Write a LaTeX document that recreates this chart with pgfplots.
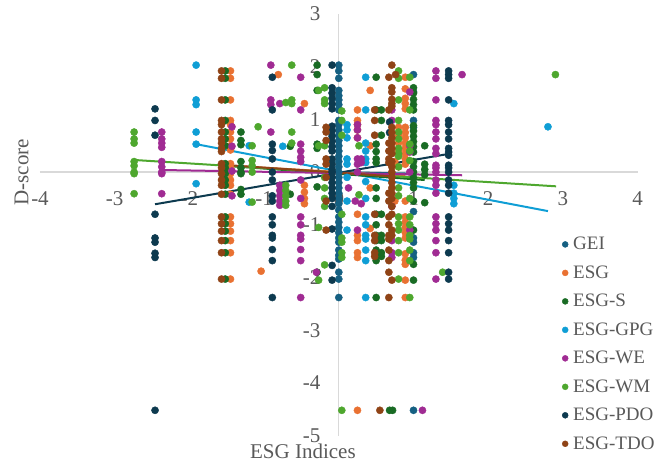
\documentclass[border=0pt]{standalone}
\usepackage{fontspec}
\setmainfont{Liberation Serif}
\usepackage{pgfplots}
\pgfplotsset{compat=1.18}
\definecolor{cGEI}{HTML}{156082}
\definecolor{cESG}{HTML}{E97132}
\definecolor{cS}{HTML}{196B24}
\definecolor{cGPG}{HTML}{0F9ED5}
\definecolor{cWE}{HTML}{A02B93}
\definecolor{cWM}{HTML}{4EA72E}
\definecolor{cPDO}{HTML}{0D3A4F}
\definecolor{cTDO}{HTML}{8F4316}
\definecolor{txt}{HTML}{595959}
\definecolor{axl}{HTML}{D9D9D9}
\begin{document}
\begin{tikzpicture}[x=1pt,y=1pt]
\useasboundingbox (-40,-29.4) rectangle (621,435.6);
\begin{axis}[
  at={(0,0)},anchor=south west,
  scale only axis,width=597.6pt,height=421.6pt,
  xmin=-4,xmax=4,ymin=-5,ymax=3,
  axis lines=center,
  axis line style={axl,line width=1.3pt,-},
  major tick length=0pt,
  xtick={-4,-3,-2,-1,0,1,2,3,4},
  ytick={-5,-4,-3,-2,-1,0,1,2,3},
  hide obscured x ticks=false,
  hide obscured y ticks=false,
  /pgf/number format/assume math mode=true,
  tick label style={font=\fontsize{21}{21}\selectfont,text=txt},
  xticklabel style={yshift=-16pt},
  yticklabel style={xshift=-15pt},
  clip=false,
  xlabel={ESG Indices},ylabel={D-score},
  label style={font=\fontsize{21}{21}\selectfont,text=txt},
  xlabel style={at={(axis cs:-0.48,-5)},anchor=north,yshift=-5pt},
  ylabel style={at={(axis cs:-4,0)},anchor=south,rotate=90,yshift=8pt},
  legend style={at={(rel axis cs:0.8735,0.473)},anchor=north west,draw=none,fill=none,
    font=\fontsize{19}{19}\selectfont,text=txt,row sep=12.4pt,inner sep=0pt,
    legend cell align=left,nodes={inner ysep=1pt,inner xsep=5pt}},
  legend image post style={mark size=3pt},
  every axis plot/.append style={mark=*,mark size=3.6pt,only marks},
]
% GEI
\addplot[cGEI,mark options={fill=cGEI,draw=none}] coordinates {
(0,2.03)(0,1.92)(0,1.78)(0,1.55)(0,1.45)(0,1.37)(0,1.28)(0,1.18)(0,0.98)(0,0.9)(0,0.8)(0,0.7)(0,0.6)(0,0.5)(0,0.4)(0,0.3)(0,0.2)(0,0.1)(0,0)(0,-0.1)(0,-0.2)(0,-0.3)(0,-0.4)(0,-0.5)(0,-0.6)(0,-0.72)(0,-0.85)(0,-0.95)(0,-1.05)(0,-1.15)(0,-1.25)(0,-1.33)(0,-1.48)(0,-1.58)(0,-1.65)(0,-1.9)(0,-2.03)(0,-2.38)
(1,1.85)(1,1.52)(1,0.98)(1,0.85)(1,-0.75)(1,-1.25)(1,-1.33)(1,-1.53)(1,-1.62)(1,-4.52)
};
\addlegendentry{GEI}
% ESG
\addplot[cESG,mark options={fill=cESG,draw=none}] coordinates {
(-1.45,1.92)(-1.45,1.78)(-1.45,1.37)(-1.45,0.98)(-1.45,0.9)(-1.45,0.76)(-1.45,0.63)(-1.45,0.5)(-1.45,0.42)(-1.45,0.16)(-1.45,0.08)(-1.45,-0.03)(-1.45,-0.15)(-1.45,-0.25)(-1.45,-0.42)(-1.45,-0.85)(-1.45,-0.98)(-1.45,-1.12)(-1.45,-1.3)(-1.45,-1.53)(-1.45,-2.03)
(-0.81,1.85)(-1.04,-1.88)(-0.46,1.3)(-0.46,-0.25)(-0.46,-0.38)(-0.46,-0.5)(-0.46,-0.6)
(0.25,1.18)(0.25,0.98)(0.25,0.9)(0.25,0.8)(0.25,0.65)(0.25,-0.8)(0.25,-1.2)(0.25,-1.3)(0.25,-1.53)(0.25,-1.62)(0.25,-4.52)
(0.42,1.55)(0.42,0.5)(0.42,-0.3)(0.42,-1.07)
(0.89,1.8)(0.89,1.58)(0.89,1.4)(0.89,1.3)(0.89,1.2)(0.89,0.85)(0.89,0.75)(0.89,0.65)(0.89,0.55)(0.89,0.45)(0.89,0.35)(0.89,0.25)(0.89,0.15)(0.89,-0.55)(0.89,-0.85)(0.89,-0.95)(0.89,-1.05)(0.89,-1.15)(0.89,-1.25)(0.89,-1.55)(0.89,-1.67)(0.89,-1.75)(0.89,-2.05)(0.89,-2.38)
(0.69,0.55)(0.75,0.2)(0.8,0.1)(0.75,-0.55)(0.8,0.85)(0.8,0.7)(0.8,0.55)(0.8,0.4)
};
\addlegendentry{ESG}
% ESG-S
\addplot[cS,mark options={fill=cS,draw=none}] coordinates {
(-1.52,1.92)(-1.52,1.78)(-1.52,1.37)(-1.52,0.98)(-1.52,0.76)(-1.52,0.63)(-1.52,0.5)(-1.52,0.16)(-1.52,0.08)(-1.52,-0.03)(-1.52,-0.15)(-1.52,-0.25)(-1.52,-0.42)(-1.52,-0.85)(-1.52,-0.98)(-1.52,-1.12)(-1.52,-1.3)(-1.52,-1.53)(-1.52,-2.03)
(-1.31,0.76)(-1.31,0.6)(-1.31,0.52)(-1.31,0.2)(-1.31,0.08)(-1.31,0)(-1.31,-0.03)(-1.31,-0.33)(-1.31,-0.42)
(-0.65,0.49)(-0.65,-0.42)
(-0.29,2.03)(-0.29,1.85)(-0.29,1.55)(-0.29,0.53)(-0.29,0.45)(-0.29,-0.28)(-0.29,-1.9)
(0.5,1.8)(0.5,1.18)(0.5,0.53)(0.5,0.39)(0.5,0.25)(0.5,0.18)(0.5,-0.3)(0.5,-0.5)(0.5,-0.8)(0.5,-1)(0.5,-1.2)(0.5,-1.3)(0.5,-1.48)(0.5,-1.6)(0.5,-1.68)(0.5,-2.38)
(0.57,1.18)(0.57,0.98)(0.57,0.7)(0.57,-0.8)(0.57,-1.2)(0.57,-1.3)(0.57,-1.53)(0.57,-1.6)
(1,1.6)(1,1.5)(1,1.38)(1,1.28)(1,1.18)(1,0.88)(1,0.78)(1,0.68)(1,0.58)(1,0.48)(1,0.38)(1,0.2)(1,0.1)(1,0)(1,-0.1)(1,-0.2)(1,-0.3)(1,-0.55)(1,-1.1)(1,-1.75)(1,-2.05)
(1.15,0.5)(1.15,0.15)(1.15,0.05)(1.15,-0.05)(1.15,-0.58)
(0.68,-4.52)(0.72,-4.52)
};
\addlegendentry{ESG-S}
% ESG-GPG
\addplot[cGPG,mark options={fill=cGPG,draw=none}] coordinates {
(-1.91,2.03)(-1.91,1.37)(-1.91,1.28)(-1.91,0.76)(-1.91,0.53)(-1.91,-0.22)
(-1.2,0.5)(-1.2,-0.57)(-0.75,0.49)
(0.11,0.9)(0.11,0.8)(0.11,0.65)(0.11,0.25)(0.11,0.15)(0.11,-0.1)(0.11,-0.55)(0.11,-1.1)
(0.36,1.8)(0.36,1.18)(0.36,0.55)(0.36,0.4)(0.36,0.25)(0.36,0.18)(0.36,-0.18)(0.36,-0.5)(0.36,-0.85)(0.36,-1)(0.36,-1.2)(0.36,-1.27)(0.36,-1.48)(0.36,-1.68)(0.36,-2.38)
(1.54,1.3)(1.54,-0.25)(1.54,-0.4)(1.54,-0.5)(1.54,-0.6)(2.8,0.86)
};
\addlegendentry{ESG-GPG}
% ESG-WE
\addplot[cWE,mark options={fill=cWE,draw=none}] coordinates {
(-2.37,0.76)(-2.37,0.63)(-2.37,0.55)(-2.37,0.47)(-2.37,0.2)(-2.37,0.1)(-2.37,0)(-2.37,-0.03)(-2.37,-0.41)
(-1.43,0.86)(-1.43,0.49)(-1.43,0.02)(-1.43,-0.45)
(-0.91,2.03)(-0.91,1.37)(-0.91,1.28)(-0.91,0.76)
(-0.79,1.3)(-0.79,-0.25)(-0.79,-0.35)(-0.79,-0.45)(-0.79,-0.55)(-0.79,-0.63)
(-0.51,1.8)(-0.51,1.18)(-0.51,0.53)(-0.51,0.4)(-0.51,0.28)(-0.51,0.2)(-0.51,-0.15)(-0.51,-0.5)(-0.51,-0.85)(-0.51,-1)(-0.51,-1.2)(-0.51,-1.27)(-0.51,-1.47)(-0.51,-1.68)(-0.51,-2.38)
(-0.3,-1.9)
(0.25,0.9)(0.25,0.8)(0.25,0.65)(0.25,0.25)(0.25,0.15)(0.25,0)(0.25,-1.1)(0.13,-0.3)(0.3,-0.6)(0.22,-0.55)(0.3,0.25)(0.3,0.18)
(0.95,1.52)(0.95,0.5)(0.95,0.38)(0.95,0)(0.95,-1.1)
(0.71,1.18)(0.71,0.98)(0.71,-0.65)(0.71,-1.3)(0.71,-1.53)(0.71,-1.62)
(1.3,1.92)(1.3,1.78)(1.3,1.37)(1.3,0.98)(1.3,0.9)(1.3,0.76)(1.3,0.63)(1.3,0.45)(1.3,0.35)(1.3,0.13)(1.3,0.08)(1.3,0)(1.3,-0.15)(1.3,-0.25)(1.3,-0.4)(1.3,-0.85)(1.3,-0.98)(1.3,-1.1)(1.3,-1.3)(1.3,-1.53)(1.3,-2.03)
(1.65,1.85)(1.12,-4.52)
};
\addlegendentry{ESG-WE}
% ESG-WM
\addplot[cWM,mark options={fill=cWM,draw=none}] coordinates {
(-2.74,0.76)(-2.74,0.63)(-2.74,0.55)(-2.74,0.2)(-2.74,0.12)(-2.74,0)(-2.74,-0.03)(-2.74,-0.41)
(-1.16,0.5)(-1.16,0.22)(-1.16,0.12)(-1.16,0)(-1.16,-0.57)(-1.08,0.86)
(-0.71,1.32)(-0.71,-0.25)(-0.71,-0.35)(-0.71,-0.45)(-0.71,-0.55)(-0.71,-0.63)
(-0.63,2.03)(-0.63,1.37)(-0.63,1.3)(-0.63,0.76)(-0.63,0.55)
(-0.27,1.55)(-0.27,0.5)(-0.27,-1.05)(-0.27,-2.05)
(-0.19,1.6)(-0.19,1.37)(-0.19,1.3)(-0.19,0.5)(-0.19,-0.1)(-0.19,-0.3)(-0.19,-0.5)(-0.19,-0.65)(-0.19,-1.76)
(0.04,1.16)(0.04,0.98)(0.04,0.7)(0.04,-0.8)(0.04,-1.25)(0.04,-1.33)(0.04,-1.53)(0.04,-1.62)(0.04,-4.52)
(0.27,0.5)(0.27,-0.43)
(0.8,1.92)(0.8,1.78)(0.8,1.37)(0.8,0.98)(0.8,0.76)(0.8,0.63)(0.8,0.45)(0.8,0.35)(0.8,0.3)(0.8,0.1)(0.8,-0.3)(0.8,-0.45)(0.8,-0.85)(0.8,-0.98)(0.8,-1.1)(0.8,-1.3)(0.8,-1.53)(0.8,-2.03)
(0.95,1.8)(0.95,1.18)(0.95,0.53)(0.95,0.4)(0.95,0.22)(0.95,-0.5)(0.95,-0.85)(0.95,-1)(0.95,-1.2)(0.95,-1.27)(0.95,-1.48)(0.95,-1.68)(0.95,-2.38)
(1.39,-1.9)(2.9,1.85)
};
\addlegendentry{ESG-WM}
% ESG-PDO
\addplot[cPDO,mark options={fill=cPDO,draw=none}] coordinates {
(-2.46,1.2)(-2.46,0.98)(-2.46,0.7)(-2.46,-0.8)(-2.46,-1.25)(-2.46,-1.33)(-2.46,-1.54)(-2.46,-1.62)(-2.46,-4.52)
(-0.89,1.8)(-0.89,1.18)(-0.89,0.53)(-0.89,0.41)(-0.89,0.25)(-0.89,0)(-0.89,-0.15)(-0.89,-0.45)(-0.89,-0.55)(-0.89,-0.85)(-0.89,-1)(-0.89,-1.2)(-0.89,-1.25)(-0.89,-1.47)(-0.89,-1.68)(-0.89,-2.38)
(-0.09,2.03)(-0.09,1.6)(-0.09,1.5)(-0.09,1.4)(-0.09,1.3)(-0.09,1.2)(-0.09,0.87)(-0.09,0.78)(-0.09,0.68)(-0.09,0.58)(-0.09,0.48)(-0.09,0.4)(-0.09,0.25)(-0.09,0.15)(-0.09,0.05)(-0.09,0)(-0.09,-0.1)(-0.09,-0.2)(-0.09,-0.3)(-0.09,-0.4)(-0.09,-0.5)(-0.09,-0.65)(-0.09,-1.08)(-0.09,-1.77)(-0.09,-2.05)
(0.68,0.95)(0.68,0.75)
(1.47,1.92)(1.47,1.85)(1.47,1.78)(1.47,1.37)(1.47,0.98)(1.47,0.9)(1.47,0.76)(1.47,0.63)(1.47,0.45)(1.47,0.38)(1.47,0.32)(1.47,0.13)(1.47,0.08)(1.47,0)(1.47,-0.15)(1.47,-0.25)(1.47,-0.4)(1.47,-0.85)(1.47,-0.98)(1.47,-1.1)(1.47,-1.3)(1.47,-1.53)(1.47,-1.9)(1.47,-2.03)
};
\addlegendentry{ESG-PDO}
% ESG-TDO
\addplot[cTDO,mark options={fill=cTDO,draw=none}] coordinates {
(-1.57,1.92)(-1.57,1.78)(-1.57,1.37)(-1.57,0.98)(-1.57,0.9)(-1.57,0.76)(-1.57,0.63)(-1.57,0.55)(-1.57,0.45)(-1.57,0.39)(-1.57,0.16)(-1.57,0.08)(-1.57,-0.03)(-1.57,-0.15)(-1.57,-0.25)(-1.57,-0.42)(-1.57,-0.85)(-1.57,-0.98)(-1.57,-1.12)(-1.57,-1.3)(-1.57,-1.53)(-1.57,-2.03)
(-0.17,0.85)(-0.17,0.76)(-0.17,0.6)(-0.17,0.25)(-0.17,0.15)(-0.17,-0.1)(-0.17,-0.55)(-0.17,-1.1)
(0.48,1.18)(0.48,0.98)(0.48,0.7)(0.48,-0.8)(0.48,-1.2)(0.48,-1.3)(0.48,-1.53)(0.48,-1.6)
(0.71,2.03)(0.71,1.6)(0.71,1.52)(0.71,1.38)(0.71,1.3)(0.71,1.25)(0.71,0.85)(0.71,0.75)(0.71,0.65)(0.71,0.55)(0.71,0.45)(0.71,0.35)(0.71,0.2)(0.71,0.1)(0.71,0)(0.71,-0.1)(0.71,-0.2)(0.71,-0.3)(0.71,-0.4)(0.71,-0.5)(0.71,-0.65)(0.71,-0.8)(0.71,-1.1)(0.71,-1.2)(0.71,-2.05)
(0.67,1.8)(0.67,1.18)(0.67,0.55)(0.67,0.4)(0.67,0.25)(0.67,0.18)(0.67,-0.4)(0.67,-0.55)(0.67,-0.85)(0.67,-1)(0.67,-1.2)(0.67,-1.27)(0.67,-1.48)(0.67,-1.68)(0.67,-1.9)(0.67,-2.38)(0.76,1.85)(0.55,-4.52)
};
\addlegendentry{ESG-TDO}
% trend lines
\addplot[cGPG,line width=2pt,no marks,sharp plot,forget plot] coordinates {(-1.91,0.53)(2.8,-0.74)};
\addplot[cGEI,line width=2pt,no marks,sharp plot,forget plot] coordinates {(0,0)(1,-0.03)};
\addplot[cS,line width=2pt,no marks,sharp plot,forget plot] coordinates {(-1.52,0.12)(1.15,-0.15)};
\addplot[cESG,line width=2pt,no marks,sharp plot,forget plot] coordinates {(-1.45,0.12)(0.89,-0.07)};
\addplot[cWM,line width=2pt,no marks,sharp plot,forget plot] coordinates {(-2.74,0.23)(2.91,-0.27)};
\addplot[cPDO,line width=2pt,no marks,sharp plot,forget plot] coordinates {(-2.46,-0.61)(1.45,0.34)};
\addplot[cWE,line width=2pt,no marks,sharp plot,forget plot] coordinates {(-2.37,0.04)(1.65,-0.06)};
\addplot[cTDO,line width=2pt,no marks,sharp plot,forget plot] coordinates {(-1.57,0.14)(0.71,-0.08)};
\end{axis}
\end{tikzpicture}
\end{document}
